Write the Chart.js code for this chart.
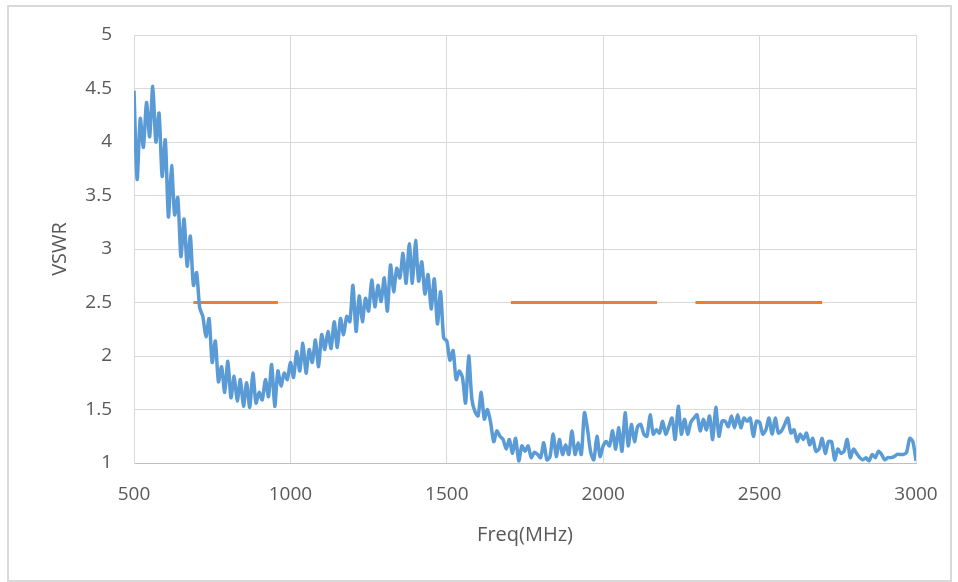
<!DOCTYPE html>
<html>
<head>
<meta charset="utf-8">
<script src="https://cdn.jsdelivr.net/npm/chart.js@4/dist/chart.umd.min.js"></script>
<style>
  html, body { margin: 0; padding: 0; background: #fff; }
  #wrap { position: relative; width: 958px; height: 582px; }
  #frame { position: absolute; left: 7px; top: 5px; width: 941px; height: 573px; border: 2px solid #d9d9d9; }
  canvas { position: absolute; left: 0; top: 0; }
</style>
</head>
<body>
<div id="wrap">
  <div id="frame"></div>
  <canvas id="vswrChart" width="958" height="582"></canvas>
</div>
<script>
// sweep: 500..3000 MHz, one sample every 10 MHz
const freqStart = 500;
const freqStep = 10;

const vswr = [
  4.48, 3.65, 4.22, 3.95, 4.37, 4.05, 4.52, 4.00, 4.27, 3.68,   // 500
  4.02, 3.30, 3.78, 3.32, 3.48, 2.93, 3.28, 2.84, 3.12, 2.66,   // 600
  2.78, 2.45, 2.37, 2.18, 2.35, 1.94, 2.14, 1.76, 1.90, 1.66,   // 700
  1.95, 1.61, 1.81, 1.58, 1.78, 1.53, 1.75, 1.52, 1.84, 1.56,   // 800
  1.66, 1.59, 1.78, 1.62, 1.92, 1.53, 1.86, 1.72, 1.84, 1.78,   // 900
  1.94, 1.80, 2.04, 1.86, 2.12, 1.84, 2.06, 1.94, 2.15, 1.90,   // 1000
  2.20, 2.06, 2.23, 2.07, 2.32, 2.08, 2.35, 2.20, 2.37, 2.32,   // 1100
  2.66, 2.23, 2.56, 2.32, 2.54, 2.42, 2.71, 2.46, 2.66, 2.51,   // 1200
  2.73, 2.42, 2.85, 2.60, 2.82, 2.73, 2.96, 2.68, 3.05, 2.68,   // 1300
  3.08, 2.70, 2.88, 2.58, 2.76, 2.44, 2.72, 2.30, 2.60, 2.17,   // 1400
  2.14, 1.96, 2.05, 1.78, 1.86, 1.80, 1.56, 2.00, 1.60, 1.48,   // 1500
  1.44, 1.66, 1.41, 1.50, 1.38, 1.20, 1.30, 1.25, 1.22, 1.13,   // 1600
  1.22, 1.09, 1.23, 1.02, 1.16, 1.11, 1.16, 1.05, 1.10, 1.08,   // 1700
  1.05, 1.19, 1.03, 1.06, 1.27, 1.06, 1.22, 1.08, 1.17, 1.08,   // 1800
  1.30, 1.08, 1.19, 1.08, 1.47, 1.31, 1.10, 1.03, 1.25, 1.06,   // 1900
  1.16, 1.20, 1.16, 1.30, 1.13, 1.33, 1.11, 1.47, 1.16, 1.36,   // 2000
  1.20, 1.34, 1.36, 1.27, 1.25, 1.45, 1.27, 1.31, 1.28, 1.39,   // 2100
  1.27, 1.34, 1.42, 1.22, 1.53, 1.27, 1.41, 1.27, 1.38, 1.42,   // 2200
  1.45, 1.30, 1.41, 1.31, 1.44, 1.22, 1.52, 1.25, 1.39, 1.39,   // 2300
  1.34, 1.44, 1.33, 1.45, 1.33, 1.42, 1.39, 1.42, 1.25, 1.39,   // 2400
  1.38, 1.27, 1.31, 1.42, 1.27, 1.42, 1.28, 1.30, 1.36, 1.42,   // 2500
  1.28, 1.31, 1.20, 1.27, 1.22, 1.28, 1.17, 1.23, 1.11, 1.13,   // 2600
  1.23, 1.09, 1.20, 1.20, 1.03, 1.13, 1.09, 1.11, 1.22, 1.05,   // 2700
  1.13, 1.09, 1.05, 1.03, 1.05, 1.02, 1.08, 1.05, 1.11, 1.08,   // 2800
  1.03, 1.05, 1.05, 1.06, 1.08, 1.08, 1.08, 1.10, 1.23, 1.20,   // 2900
  1.02                                                          // 3000
];

// spec limit bands (orange)
const bandStart = [690, 1705, 2295];
const bandEnd = [960, 2172, 2700];
const bandLevel = 2.5;

const xTicks = [500, 1000, 1500, 2000, 2500, 3000];
const yTicks = [1, 1.5, 2, 2.5, 3, 3.5, 4, 4.5, 5];

const measured = vswr.map((v, i) => ({ x: freqStart + i * freqStep, y: v }));

const limit = [];
bandStart.forEach((s, i) => {
    limit.push({ x: s, y: bandLevel });
    limit.push({ x: bandEnd[i], y: bandLevel });
    limit.push({ x: bandEnd[i] + 1, y: null });
});

const font = { family: "'Open Sans', 'Noto Sans', sans-serif", size: 19 };
const titleFont = { family: "'Open Sans', 'Noto Sans', sans-serif", size: 20 };

new Chart(document.getElementById('vswrChart'), {
    type: 'line',
    data: {
        datasets: [{
            data: measured,
            borderColor: '#5b9bd5',
            borderWidth: 3.5,
            pointRadius: 0,
            tension: 0.25
        }, {
            data: limit,
            borderColor: '#ed7d31',
            borderWidth: 3,
            pointRadius: 0,
            spanGaps: false
        }]
    },
    options: {
        responsive: false,
        animation: false,
        layout: { padding: { left: 48, right: 42, top: 35, bottom: 35 } },
        plugins: { legend: { display: false }, tooltip: { enabled: false } },
        scales: {
            x: {
                type: 'linear',
                min: 500,
                max: 3000,
                afterBuildTicks: s => { s.ticks = xTicks.map(v => ({ value: v })); },
                afterFit: s => { s.height = 84; },
                grid: { color: '#d9d9d9', drawTicks: false },
                border: { color: '#bfbfbf' },
                ticks: { color: '#595959', font: font, padding: 20, maxRotation: 0, callback: v => String(v) },
                title: { display: true, text: 'Freq(MHz)', color: '#595959', font: titleFont, padding: 0 }
            },
            y: {
                min: 1,
                max: 5,
                afterBuildTicks: s => { s.ticks = yTicks.map(v => ({ value: v })); },
                afterFit: s => { s.width = 86; },
                grid: { color: '#d9d9d9', drawTicks: false },
                border: { color: '#d9d9d9' },
                ticks: { color: '#595959', font: font, padding: 22, callback: v => String(v) },
                title: { display: true, text: 'VSWR', color: '#595959', font: titleFont, padding: 0 }
            }
        }
    }
});
</script>
</body>
</html>
